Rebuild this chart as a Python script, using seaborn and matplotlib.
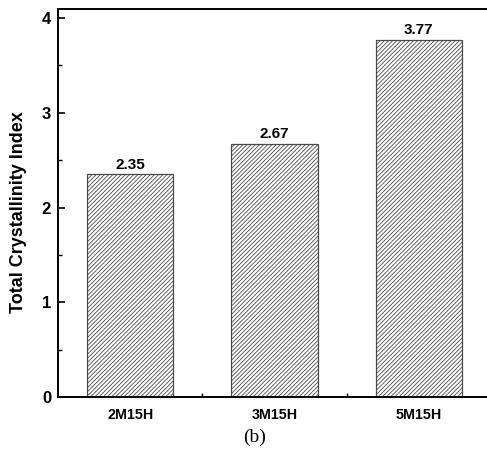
import matplotlib
matplotlib.use("Agg")
import matplotlib.pyplot as plt
import seaborn as sns
import pandas as pd

# Sample names and their total crystallinity index
samples = ["2M15H", "3M15H", "5M15H"]
crystallinity = [2.35, 2.67, 3.77]
value_labels = ["2.35", "2.67", "3.77"]
y_ticks = [0, 1, 2, 3, 4]

sns.set_theme(style="ticks")
plt.rcParams["font.family"] = ["Liberation Sans", "DejaVu Sans"]
plt.rcParams["hatch.linewidth"] = 0.6
plt.rcParams["text.color"] = "black"
plt.rcParams["axes.labelcolor"] = "black"
plt.rcParams["xtick.labelcolor"] = "black"
plt.rcParams["ytick.labelcolor"] = "black"

df = pd.DataFrame({"sample": samples, "index": crystallinity})

fig = plt.figure(figsize=(4.87, 4.54), dpi=100)
ax = fig.add_axes([58 / 487, 57 / 454, 433 / 487, 388 / 454])

sns.barplot(data=df, x="sample", y="index", ax=ax, color="white",
            saturation=1, width=0.6, edgecolor="#4a4a4a", linewidth=0.9,
            hatch="////////", errorbar=None)

ax.set_xlim(-0.5, 2.5)
ax.set_ylim(0, 4.095)
ax.set_yticks(y_ticks)
ax.set_yticklabels([str(t) for t in y_ticks])
ax.set_yticks([0.5, 1.5, 2.5, 3.5], minor=True)
ax.set_xticks([0.5, 1.5], minor=True)

for s in ax.spines.values():
    s.set_linewidth(1.4)
    s.set_color("black")

ax.tick_params(axis="both", which="major", direction="in", length=5,
               width=1.2, color="black", labelcolor="black")
ax.tick_params(axis="both", which="minor", direction="in", length=3,
               width=1.0, color="black")
ax.tick_params(axis="y", which="major", pad=5, labelsize=12)
ax.tick_params(axis="x", which="major", pad=8, labelsize=10.3)
for lab in ax.get_xticklabels() + ax.get_yticklabels():
    lab.set_fontweight("bold")

ax.set_xlabel("")
ax.set_ylabel("Total Crystallinity Index", fontsize=13, fontweight="bold",
              color="black")
ax.yaxis.set_label_coords(-0.071, 0.477)

for i, (v, t) in enumerate(zip(crystallinity, value_labels)):
    ax.annotate(t, (i, v), xytext=(0, 2), textcoords="offset points",
                ha="center", va="bottom", fontsize=11, fontweight="bold",
                color="black")

fig.text(255 / 487, 1 - 437 / 454, "(b)", ha="center", va="center",
         fontsize=14, color="black",
         family=["Liberation Serif", "DejaVu Serif"])

fig.savefig("out.png", dpi=100)
